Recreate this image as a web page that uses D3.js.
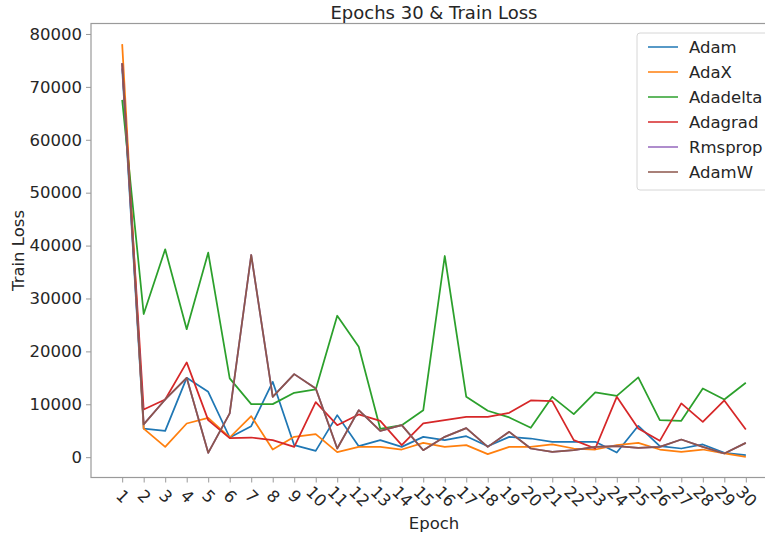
<!DOCTYPE html>
<html>
<head>
<meta charset="utf-8">
<script src="https://cdn.jsdelivr.net/npm/d3@7"></script>
<style>
	body { margin: 0; background: #fff; }
	text { font-family: "DejaVu Sans", sans-serif; fill: #262626; }
</style>
</head>
<body>
<div class="chart"></div>
<script>
var epochs = d3.range(1, 31);
var tickLabels = epochs.map(String);
var yTicks = [0, 10000, 20000, 30000, 40000, 50000, 60000, 70000, 80000];

var adam = [73500, 5400, 4980, 15000, 12360, 3720, 5860, 14250, 2270, 1190, 7950, 2080, 3220, 1950, 3840,
	3220, 3970, 2080, 3840, 3530, 2900, 2900, 2900, 880, 5930, 2080, 1640, 2400, 820, 380];
var adax = [78080, 5400, 1950, 6370, 7440, 3720, 7760, 1450, 3840, 4350, 950, 1950, 1950, 1450, 2710,
	1950, 2270, 570, 1950, 1950, 2400, 1640, 1450, 2270, 2710, 1450, 1000, 1450, 700, 60];
var adadelta = [67540, 27060, 39300, 24200, 38660, 14890, 10030, 10030, 12170, 12810, 26740, 20870, 5360, 6050, 8860,
	38030, 11410, 8770, 7510, 5550, 11410, 8140, 12240, 11600, 15080, 7000, 6870, 13000, 10910, 14060];
var adagrad = [74480, 9020, 10910, 17920, 7000, 3590, 3720, 3220, 1950, 10410, 6050, 8080, 6870, 2270, 6400,
	7000, 7630, 7630, 8390, 10720, 10600, 3220, 1640, 11410, 5420, 3090, 10160, 6680, 10720, 5240];
var rmsprop = [74480, 6200, 10910, 15000, 820, 8270, 38220, 11410, 15700, 13000, 1640, 8890, 4980, 6050, 1320,
	3840, 5490, 1950, 4790, 1640, 1000, 1320, 1950, 2080, 1770, 1950, 3340, 1950, 700, 2710];
var adamw = [74480, 6200, 10910, 15000, 820, 8270, 38220, 11410, 15700, 13000, 1640, 8890, 4980, 6050, 1320,
	3840, 5490, 1950, 4790, 1640, 1000, 1320, 1950, 2080, 1770, 1950, 3340, 1950, 700, 2710];

var names = ["Adam", "AdaX", "Adadelta", "Adagrad", "Rmsprop", "AdamW"];
var colors = ["#1f77b4", "#ff7f0e", "#2ca02c", "#d62728", "#9467bd", "#8c564b"];
var series = [adam, adax, adadelta, adagrad, rmsprop, adamw];

var width = 765, height = 535;
var margin = {left: 91, top: 23.5, right: 765 - 777, bottom: 535 - 477.5};
var iw = width - margin.left - margin.right;
var ih = height - margin.top - margin.bottom;

var svg = d3.select(".chart").append("svg")
	.attr("width", width)
	.attr("height", height);

// matplotlib style 5% margins
var all = [].concat.apply([], series);
var lo = d3.min(all), hi = d3.max(all), pad = (hi - lo) * 0.05;

var x = d3.scaleLinear()
	.domain([1 - 29 * 0.05, 30 + 29 * 0.05])
	.range([0, iw]);
var y = d3.scaleLinear()
	.domain([lo - pad, hi + pad])
	.range([ih, 0]);

var g = svg.append("g")
	.attr("transform", "translate(" + margin.left + "," + margin.top + ")");

var line = d3.line()
	.x(function(d, i) { return x(epochs[i]); })
	.y(function(d) { return y(d); });

series.forEach(function(s, k) {
	g.append("path")
		.datum(s)
		.attr("fill", "none")
		.attr("stroke", colors[k])
		.attr("stroke-width", 1.75)
		.attr("stroke-linejoin", "round")
		.attr("d", line);
});

// frame
g.append("rect")
	.attr("width", iw).attr("height", ih)
	.attr("fill", "none")
	.attr("stroke", "#9a9a9a")
	.attr("stroke-width", 1.2);

var yAxis = g.append("g")
	.call(d3.axisLeft(y).tickValues(yTicks).tickSize(5).tickPadding(4).tickFormat(d3.format("d")));
yAxis.select(".domain").remove();
yAxis.selectAll("line").attr("stroke", "#9a9a9a");
yAxis.selectAll("text").attr("font-size", 16.5).attr("fill", "#262626")
	.style("font-family", "DejaVu Sans, sans-serif");

var xAxis = g.append("g")
	.attr("transform", "translate(0," + ih + ")")
	.call(d3.axisBottom(x).tickValues(epochs).tickSize(5).tickFormat(function(d, i) { return tickLabels[i]; }));
xAxis.select(".domain").remove();
xAxis.selectAll("line").attr("stroke", "#9a9a9a");
xAxis.selectAll("text")
	.attr("font-size", 16.5).attr("fill", "#262626")
	.style("font-family", "DejaVu Sans, sans-serif")
	.attr("text-anchor", "middle")
	.attr("dy", null)
	.attr("y", 0)
	.attr("transform", "translate(0,19) rotate(45)")
	.attr("dominant-baseline", "central");

svg.append("text")
	.attr("x", margin.left + x(15.5)).attr("y", 529)
	.attr("text-anchor", "middle")
	.attr("font-size", 16.5)
	.text("Epoch");

svg.append("text")
	.attr("transform", "translate(24," + (margin.top + ih / 2) + ") rotate(-90)")
	.attr("text-anchor", "middle")
	.attr("font-size", 16.5)
	.text("Train Loss");

svg.append("text")
	.attr("x", margin.left + iw / 2).attr("y", 19)
	.attr("text-anchor", "middle")
	.attr("font-size", 18)
	.text("Epochs 30 & Train Loss");

// legend
var leg = svg.append("g").attr("transform", "translate(637,33)");
leg.append("rect")
	.attr("width", 132).attr("height", 157)
	.attr("rx", 3)
	.attr("fill", "#fff").attr("fill-opacity", 0.8)
	.attr("stroke", "#d6d6d6");
names.forEach(function(n, i) {
	var ly = 14 + i * 25;
	leg.append("line")
		.attr("x1", 11).attr("x2", 41)
		.attr("y1", ly).attr("y2", ly)
		.attr("stroke", colors[i]).attr("stroke-width", 1.5);
	leg.append("text")
		.attr("x", 52).attr("y", ly)
		.attr("dy", "0.35em")
		.attr("font-size", 16.5)
		.text(n);
});
</script>
</body>
</html>
